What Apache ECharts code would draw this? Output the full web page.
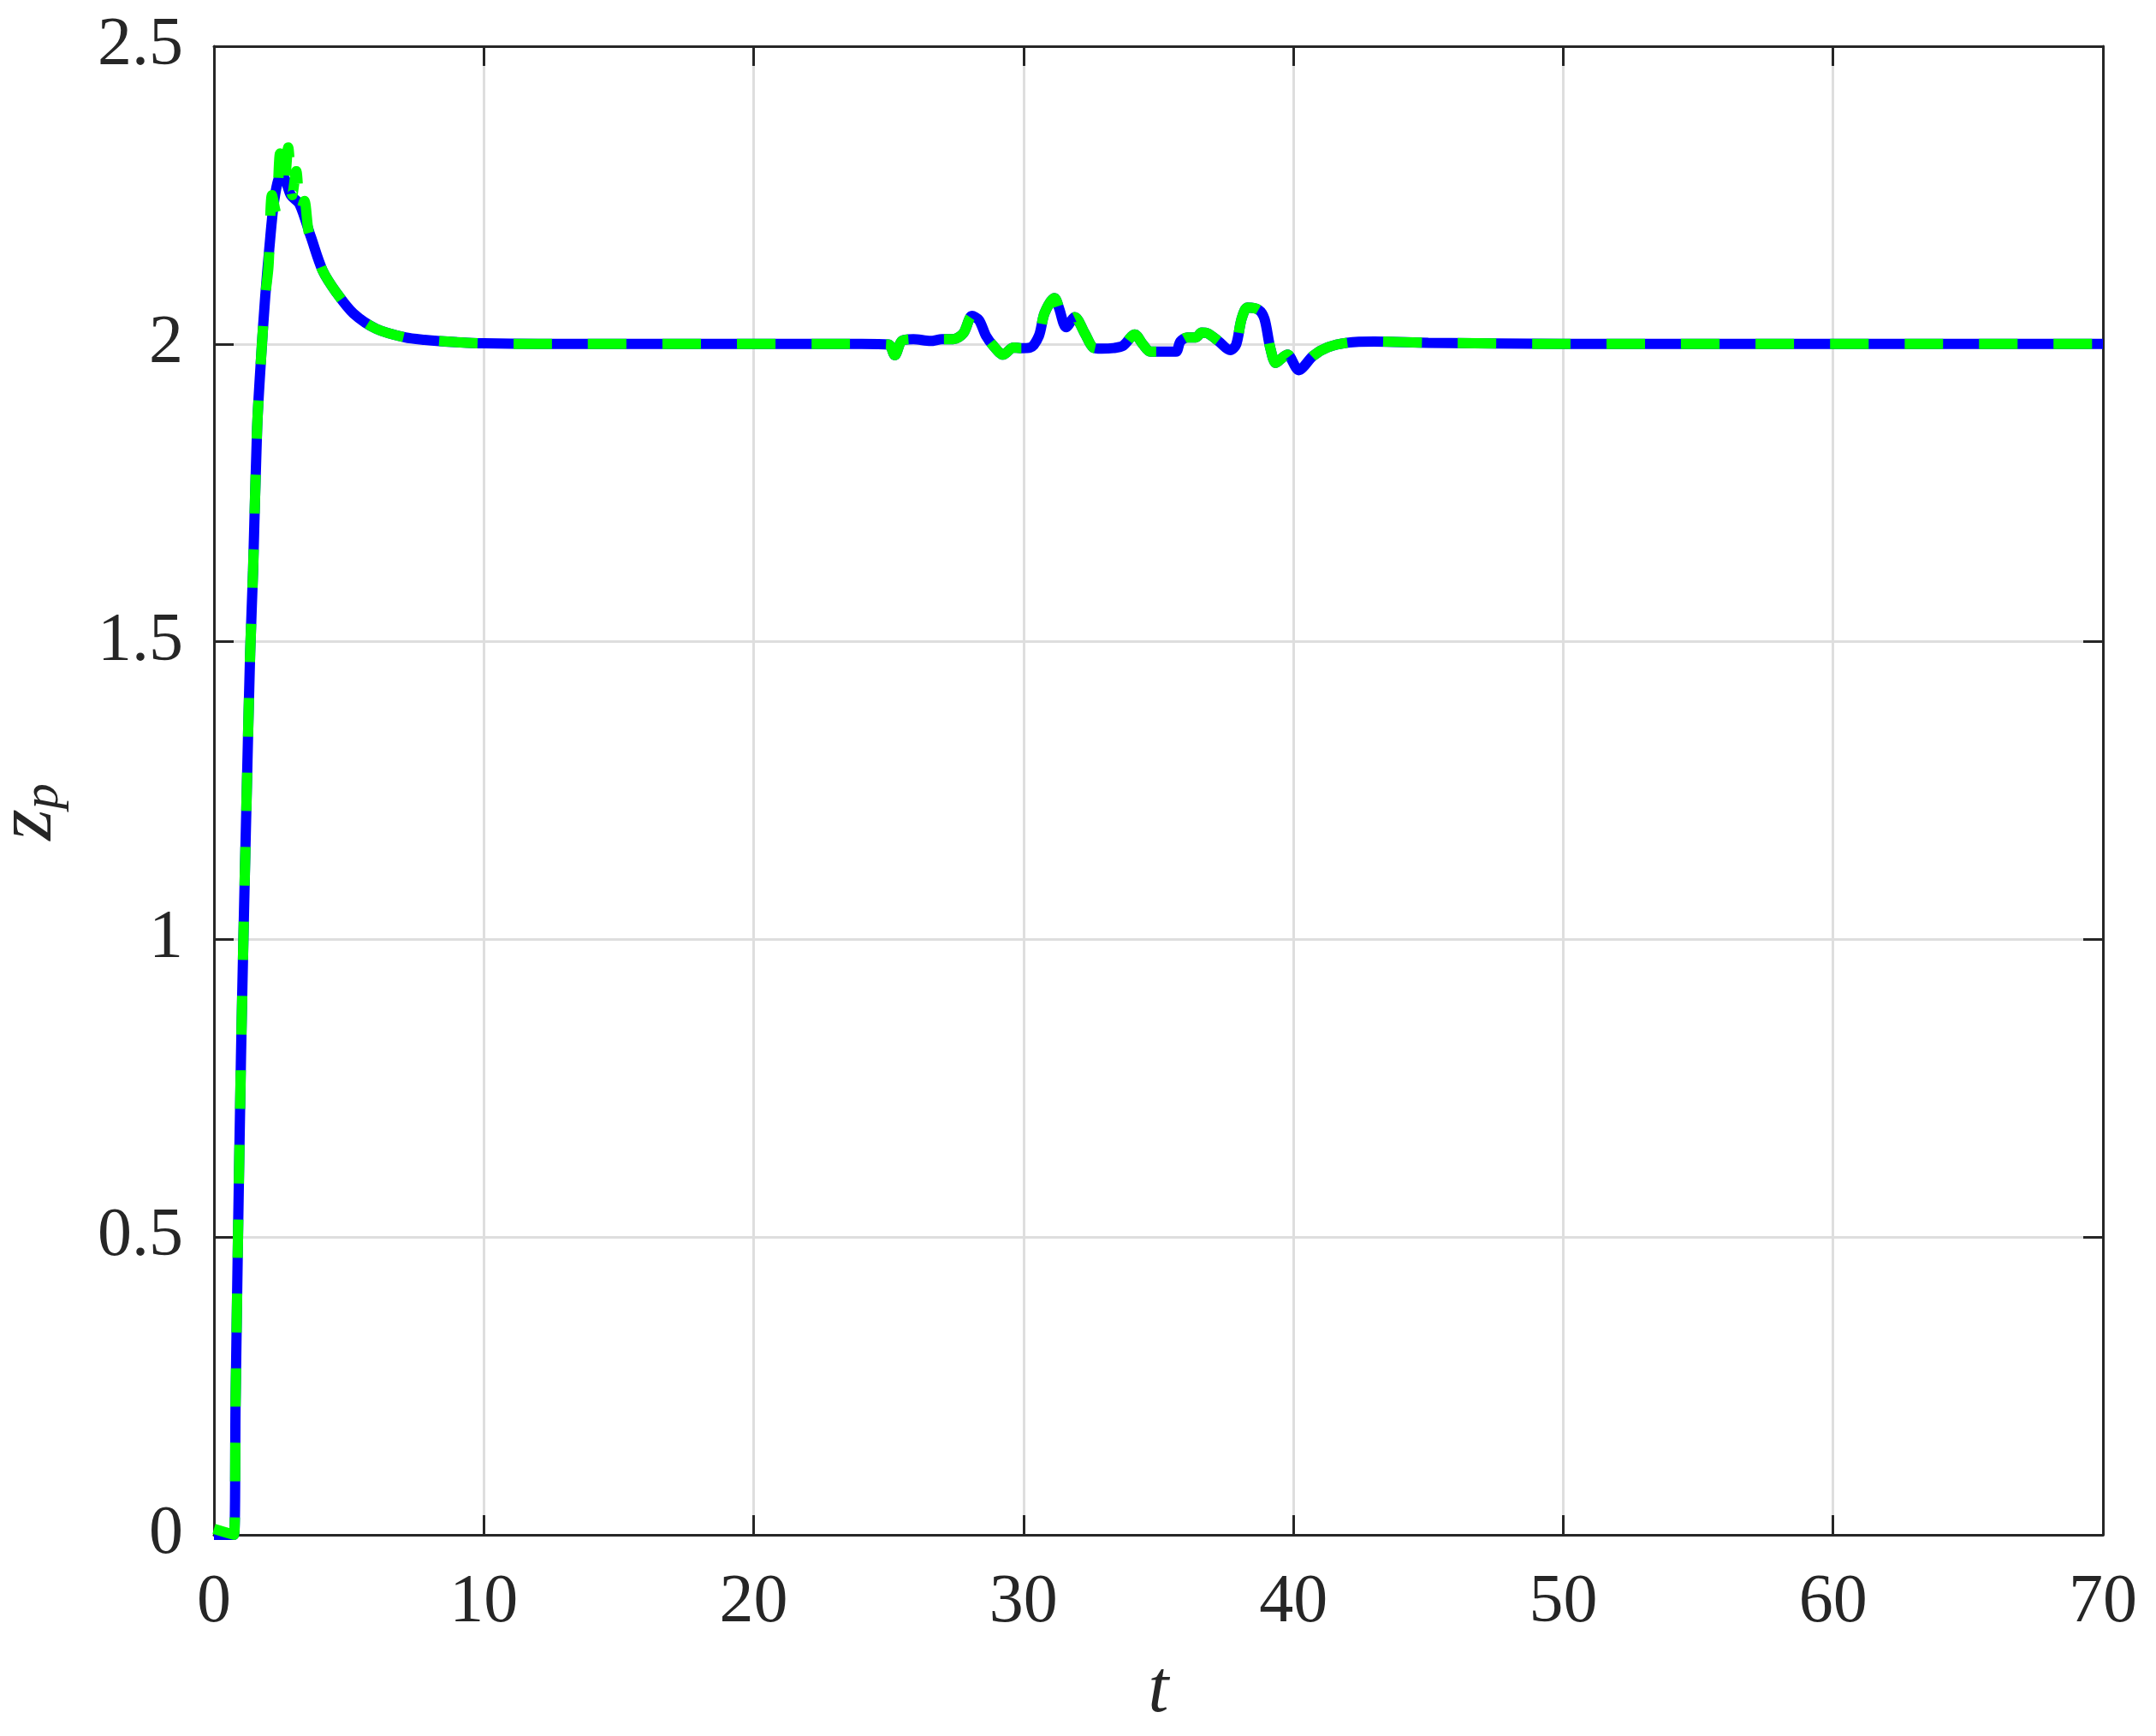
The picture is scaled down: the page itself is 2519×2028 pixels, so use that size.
<!DOCTYPE html>
<html>
<head>
<meta charset="utf-8">
<script src="https://cdn.jsdelivr.net/npm/echarts@6/dist/echarts.min.js"></script>
<style>
html,body{margin:0;padding:0;background:#fff;}
#chart{width:2519px;height:2028px;}
</style>
</head>
<body>
<div id="chart"></div>
<script>
// ---- data ----
const xTicks = [0, 10, 20, 30, 40, 50, 60, 70];
const yTicks = [0, 0.5, 1, 1.5, 2, 2.5];

// reference trajectory (blue, solid)
const blueT = [0, 0.74, 0.8, 0.89, 1.0, 1.09, 1.2, 1.34, 1.45, 1.6, 1.75, 1.9, 2.05, 2.2, 2.35, 2.5, 2.65, 2.85, 3.17, 3.59, 4.03, 4.54, 5.17, 6.03, 7.08, 7.8, 9, 10, 12,
  24, 25.0, 25.23, 25.49, 25.92, 26.55, 26.98, 27.4, 27.77, 28.09, 28.35, 28.61, 28.88, 29.25, 29.62, 29.88, 30.25, 30.57, 30.78, 31.15, 31.31, 31.58, 31.9, 32.27, 32.58, 32.9, 33.32, 33.69, 34.12, 34.43, 34.7, 35.23, 35.65, 35.81, 36.07, 36.39, 36.6, 36.81, 37.24, 37.66, 37.88, 38.08, 38.3, 38.72, 38.93, 39.14, 39.35, 39.62, 39.78, 40.2, 40.73, 41.26, 42, 43, 45, 50, 70];
const blueZ = [0, 0, 0.22, 0.5, 0.8, 1.0, 1.22, 1.48, 1.62, 1.86, 1.98, 2.08, 2.16, 2.23, 2.27, 2.285, 2.275, 2.25, 2.235, 2.18, 2.123, 2.086, 2.051, 2.025, 2.011, 2.007, 2.003, 2.001, 2.0,
  2.0, 1.999, 1.981, 2.005, 2.008, 2.005, 2.008, 2.008, 2.018, 2.047, 2.04, 2.0135, 1.997, 1.982, 1.994, 1.993, 1.994, 2.0135, 2.052, 2.077, 2.061, 2.028, 2.045, 2.018, 1.994, 1.992, 1.993, 1.997, 2.016, 1.999, 1.987, 1.987, 1.987, 2.004, 2.011, 2.011, 2.019, 2.018, 2.004, 1.9895, 1.999, 2.042, 2.061, 2.057, 2.042, 1.994, 1.968, 1.978, 1.982, 1.956, 1.98, 1.994, 2.002, 2.004, 2.002, 2.0, 2.0];

// estimated trajectory (green, dashed)
const greenT = [0, 0.74, 0.8, 0.89, 1.0, 1.09, 1.2, 1.34, 1.45, 1.6, 1.75, 1.9, 2.02, 2.15, 2.3, 2.45, 2.6, 2.75, 2.9, 3.05, 3.2, 3.35, 3.5, 3.65, 4.03, 4.54, 5.17, 6.03, 7.08, 7.8, 9, 10, 12,
  24, 25.0, 25.23, 25.49, 25.92, 26.55, 26.98, 27.4, 27.77, 28.09, 28.35, 28.61, 28.88, 29.25, 29.62, 29.88, 30.25, 30.57, 30.78, 31.15, 31.31, 31.58, 31.9, 32.27, 32.58, 32.9, 33.32, 33.69, 34.12, 34.43, 34.7, 35.23, 35.65, 35.81, 36.07, 36.39, 36.6, 36.81, 37.24, 37.66, 37.88, 38.08, 38.3, 38.72, 38.93, 39.14, 39.35, 39.62, 39.78, 40.2, 40.73, 41.26, 42, 43, 45, 50, 70];
const greenZ = [0.01, 0, 0.22, 0.5, 0.8, 1.0, 1.22, 1.48, 1.62, 1.86, 1.98, 2.08, 2.13, 2.25, 2.22, 2.32, 2.26, 2.33, 2.25, 2.29, 2.22, 2.24, 2.19, 2.17, 2.123, 2.086, 2.051, 2.025, 2.011, 2.007, 2.003, 2.001, 2.0,
  2.0, 1.999, 1.981, 2.005, 2.008, 2.005, 2.008, 2.008, 2.018, 2.047, 2.04, 2.0135, 1.997, 1.982, 1.994, 1.993, 1.994, 2.0135, 2.052, 2.077, 2.061, 2.028, 2.045, 2.018, 1.994, 1.992, 1.993, 1.997, 2.016, 1.999, 1.987, 1.987, 1.987, 2.004, 2.011, 2.011, 2.019, 2.018, 2.004, 1.9895, 1.999, 2.042, 2.061, 2.057, 2.042, 1.994, 1.968, 1.978, 1.982, 1.956, 1.98, 1.994, 2.002, 2.004, 2.002, 2.0, 2.0];

const xLabel = 't';
const yLabelMain = 'z';
const yLabelSub = 'p';

// ---- chart ----
const pairs = (ts, zs) => ts.map((t, i) => [t, zs[i]]);
const axisColor = '#262626';
const gridColor = '#dedede';
const fontFam = '"Liberation Serif", "Times New Roman", serif';

const baseX = {
  type: 'value', min: xTicks[0], max: xTicks[xTicks.length - 1], interval: 10,
  axisLine: { show: true, onZero: false, lineStyle: { color: axisColor, width: 3 } },
  axisTick: { show: true, inside: true, length: 23, lineStyle: { color: axisColor, width: 3 } },
  splitLine: { show: false }
};
const baseY = {
  type: 'value', min: yTicks[0], max: yTicks[yTicks.length - 1], interval: 0.5,
  axisLine: { show: true, onZero: false, lineStyle: { color: axisColor, width: 3 } },
  axisTick: { show: true, inside: true, length: 23, lineStyle: { color: axisColor, width: 3 } },
  splitLine: { show: false }
};

const chart = echarts.init(document.getElementById('chart'), null, { renderer: 'canvas' });
chart.setOption({
  animation: false,
  backgroundColor: '#ffffff',
  grid: { left: 250, right: 62, top: 54, bottom: 235, containLabel: false, outerBoundsMode: 'none' },
  xAxis: [
    Object.assign({}, baseX, {
      position: 'bottom',
      splitLine: { show: true, lineStyle: { color: gridColor, width: 3 } },
      axisLabel: { show: true, margin: 40, color: axisColor, fontFamily: fontFam, fontSize: 80 },
      name: xLabel, nameLocation: 'middle', nameGap: 140,
      nameTextStyle: { color: axisColor, fontFamily: fontFam, fontStyle: 'italic', fontSize: 86 }
    }),
    Object.assign({}, baseX, { position: 'top', axisLabel: { show: false } })
  ],
  yAxis: [
    Object.assign({}, baseY, {
      position: 'left',
      splitLine: { show: true, lineStyle: { color: gridColor, width: 3 } },
      axisLabel: { show: true, margin: 36, color: axisColor, fontFamily: fontFam, fontSize: 80 },
      name: '{z|' + yLabelMain + '}{p|' + yLabelSub + '}',
      nameLocation: 'middle', nameGap: 145, nameRotate: 90,
      nameTextStyle: {
        color: axisColor, fontFamily: fontFam, padding: [0, 50, 0, 0],
        rich: {
          z: { fontSize: 94, fontStyle: 'italic', fontFamily: fontFam, color: axisColor, verticalAlign: 'top', lineHeight: 94, padding: [0, 0, 22, 0] },
          p: { fontSize: 60, fontStyle: 'italic', fontFamily: fontFam, color: axisColor, verticalAlign: 'bottom', lineHeight: 62 }
        }
      }
    }),
    Object.assign({}, baseY, { position: 'right', axisLabel: { show: false } })
  ],
  series: [
    {
      type: 'line', xAxisIndex: 0, yAxisIndex: 0,
      data: pairs(blueT, blueZ), showSymbol: false, smooth: 0.3,
      lineStyle: { color: '#0000ff', width: 12 }, z: 2
    },
    {
      type: 'line', xAxisIndex: 0, yAxisIndex: 0,
      data: pairs(greenT, greenZ), showSymbol: false, smooth: 0.3,
      lineStyle: { color: '#00ff00', width: 12, type: [45, 42] }, z: 3
    }
  ]
});
</script>
</body>
</html>
